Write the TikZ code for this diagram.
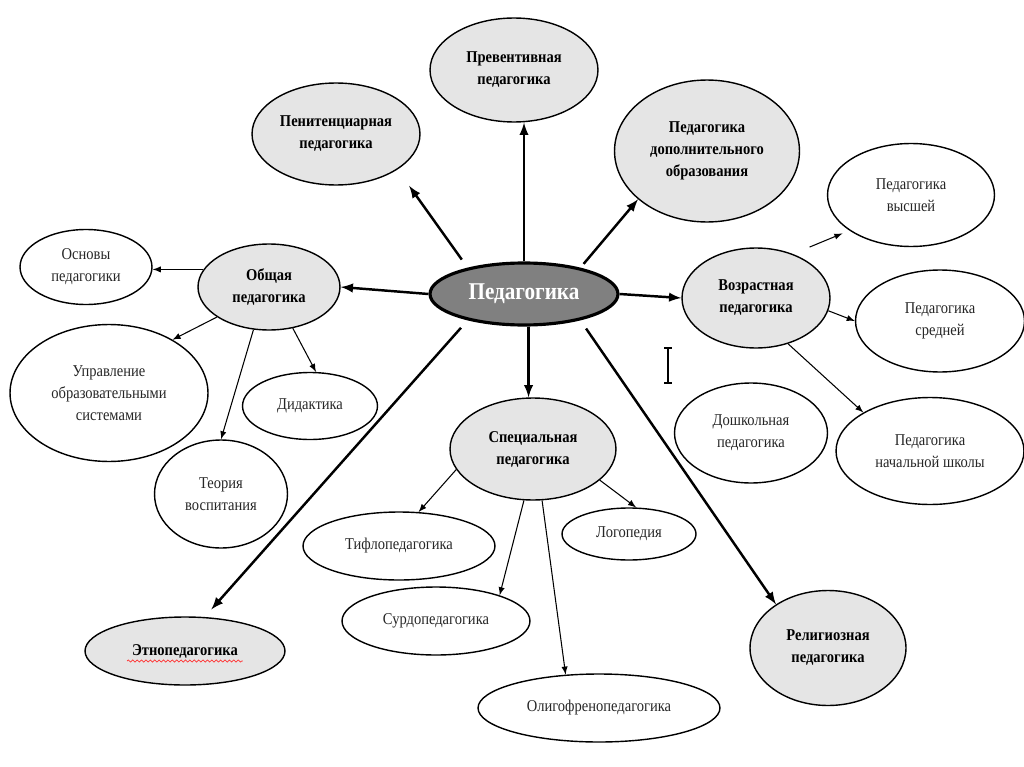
\documentclass[tikz,border=0pt]{standalone}
\usepackage{fontspec}
\setmainfont{Liberation Serif}[FakeStretch=0.88]
\usepackage{tikz}
\usetikzlibrary{shapes.geometric,decorations.pathmorphing}

\begin{document}
\begin{tikzpicture}[x=0.02cm,y=-0.02cm]
\tikzstyle{hub}=[ellipse,draw,line width=1.8pt,fill=gray,text=white,inner sep=0pt,font=\bfseries\fontsize{13.7}{16}\selectfont]
\tikzstyle{branch}=[ellipse,draw,line width=0.8pt,fill=gray!20,inner sep=0pt,align=center,font=\bfseries\fontsize{9.4}{12.5}\selectfont]
\tikzstyle{leaf}=[ellipse,draw,line width=0.8pt,fill=white,text=black!85,inner sep=0pt,align=center,font=\fontsize{9.4}{12.5}\selectfont]
\tikzstyle{bigarr}=[->,>=latex,line width=1.4pt]
\tikzstyle{smallarr}=[->,>=latex,line width=0.6pt]
\useasboundingbox (0,0) rectangle (1024,767);
\node [hub] (ped) at (524,294) [minimum width=3.76cm,minimum height=1.24cm] {Педагогика};
\node [branch] (prev) at (514,70) [minimum width=3.36cm,minimum height=2.08cm] {Превентивная\\педагогика};
\node [branch] (pen) at (336,134) [minimum width=3.36cm,minimum height=2.04cm] {Пенитенциарная\\педагогика};
\node [branch] (dop) at (707,151) [minimum width=3.7cm,minimum height=2.84cm] {Педагогика\\дополнительного\\образования};
\node [branch] (obsh) at (269,287) [minimum width=2.84cm,minimum height=1.72cm] {Общая\\педагогика};
\node [branch] (voz) at (756,298) [minimum width=2.96cm,minimum height=2cm] {Возрастная\\педагогика};
\node [branch] (spec) at (533,449) [minimum width=3.32cm,minimum height=2.04cm] {Специальная\\педагогика};
\node [branch] (eth) at (185,651) [minimum width=4cm,minimum height=1.36cm] {Этнопедагогика};
\node [branch] (rel) at (828,648) [minimum width=3.12cm,minimum height=2.3cm] {Религиозная\\педагогика};
\node [leaf] (osn) at (86,267) [minimum width=2.64cm,minimum height=1.5cm] {Основы\\педагогики};
\node [leaf] (upr) at (109,393) [minimum width=3.96cm,minimum height=2.74cm] {Управление\\образовательными\\системами};
\node [leaf] (did) at (310,406) [minimum width=2.7cm,minimum height=1.34cm] {Дидактика};
\node [leaf] (teor) at (221,494) [minimum width=2.66cm,minimum height=2.16cm] {Теория\\воспитания};
\node [leaf] (vys) at (911,195) [minimum width=3.34cm,minimum height=2.06cm] {Педагогика\\высшей};
\node [leaf] (sred) at (940,321) [minimum width=3.38cm,minimum height=2.04cm] {Педагогика\\средней};
\node [leaf] (dosh) at (751,433) [minimum width=3.06cm,minimum height=2cm] {Дошкольная\\педагогика};
\node [leaf] (nach) at (930,451) [minimum width=3.76cm,minimum height=2.14cm] {Педагогика\\начальной школы};
\node [leaf] (tif) at (399,546) [minimum width=3.84cm,minimum height=1.36cm] {Тифлопедагогика};
\node [leaf] (log) at (629,534) [minimum width=2.68cm,minimum height=1.04cm] {Логопедия};
\node [leaf] (surd) at (436,621) [minimum width=3.76cm,minimum height=1.36cm] {Сурдопедагогика};
\node [leaf] (olig) at (599,708) [minimum width=4.84cm,minimum height=1.36cm] {Олигофренопедагогика};
\draw [bigarr] (ped.north) -- (ped.north |- prev.south);
\draw [bigarr,shorten <=0.2cm,shorten >=0.4cm] (ped.155) -- (pen.-30);
\draw [bigarr,shorten <=0.1cm] (ped.25) -- (dop.-145);
\draw [bigarr] (ped.west) -- (obsh.east);
\draw [bigarr] (ped.east) -- (voz.west);
\draw [bigarr] (ped.-82) -- (ped.-82 |- spec.north);
\draw [bigarr,shorten <=0.2cm,shorten >=0.2cm] (ped.-155) -- (eth.60);
\draw [bigarr,shorten <=0.2cm] (ped.-25) -- (rel.140);
\draw [smallarr] (obsh.165) -- (obsh.165 -| osn.east);
\draw [smallarr] (obsh.-150) -- (upr.40);
\draw [smallarr] (obsh.-110) -- (teor.90);
\draw [smallarr] (obsh.-60) -- (did.80);
\draw [smallarr,shorten <=0.36cm,shorten >=0.15cm] (voz.50) -- (vys.-150);
\draw [smallarr] (voz.-10) -- (sred.west);
\draw [smallarr] (voz.-55) -- (nach.150);
\draw [smallarr] (spec.-165) -- (tif.60);
\draw [smallarr] (spec.-100) -- (surd.22);
\draw [smallarr] (spec.-80) -- (olig.135);
\draw [smallarr] (spec.-25) -- (log.75);
\draw [red!80,line width=0.4pt,decorate,decoration={snake,amplitude=0.6pt,segment length=2.5pt}] ([xshift=-1.16cm,yshift=-0.2cm]eth.center) -- ([xshift=1.16cm,yshift=-0.2cm]eth.center);
\draw [line width=0.6pt] (664,348) -- (672,348) (668,348) -- (668,383) (664,383) -- (672,383);
\end{tikzpicture}
\end{document}
